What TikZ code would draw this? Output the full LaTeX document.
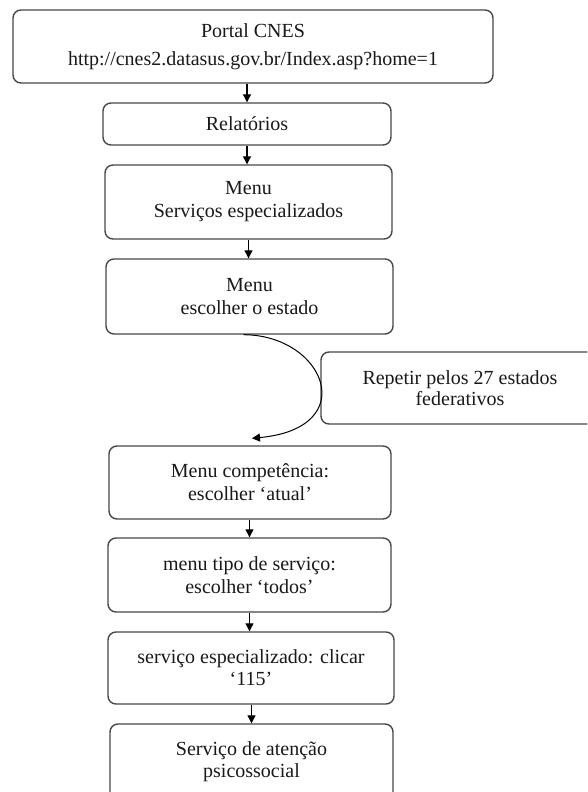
\documentclass[tikz,border=0pt]{standalone}
\usepackage{fontspec}
\setmainfont{Liberation Serif}
\usetikzlibrary{arrows.meta}
\begin{document}
\begin{tikzpicture}[x=1pt,y=-1pt,
  box/.style={draw=black!72,line width=1.4pt,rounded corners=8pt,align=center,
    inner sep=0pt,font={\fontsize{20}{23}\selectfont},text=black!90},
  arr/.style={draw=black,line width=1.1pt,-{Triangle[length=8pt,width=8pt]}}]
\clip (0,0) rectangle (587,792);
\fill[white] (0,0) rectangle (587,792);
\node[box,minimum width=480pt,minimum height=73pt,font={\fontsize{20}{28}\selectfont}] (b1) at (253,46.5)
  {Portal CNES\\http://cnes2.datasus.gov.br/Index.asp?home=1};
\node[box,minimum width=288pt,minimum height=42pt] (b2) at (247,124) {Relatórios};
\node[box,minimum width=287pt,minimum height=74pt] (b3) at (248.5,202) {Menu\\Serviços especializados};
\node[box,minimum width=287pt,minimum height=75pt] (b4) at (249.5,296.5) {Menu\\escolher o estado};
\node[box,minimum width=278pt,minimum height=72pt,font={\fontsize{20}{21}\selectfont}] (rep) at (460,388)
  {Repetir pelos 27 estados\\federativos};
\node[box,minimum width=282pt,minimum height=73pt] (b5) at (250,482.5) {Menu competência:\\escolher ‘atual’};
\node[box,minimum width=283pt,minimum height=74pt] (b6) at (249.5,575) {menu tipo de serviço:\\escolher ‘todos’};
\node[box,minimum width=286pt,minimum height=72pt,font={\fontsize{20}{22}\selectfont}] (b7) at (251,668) {serviço especializado: clicar\\‘115’};
\node[box,minimum width=283pt,minimum height=76pt,font={\fontsize{20}{22}\selectfont}] (b8) at (251.5,762) {Serviço de atenção\\psicossocial};
\draw[arr] (b1.south -| b2) -- (b2.north);
\draw[arr] (b2.south) -- (b3.north -| b2);
\draw[arr] (b3.south) -- (b4.north -| b3);
\draw[arr] (b5.south -| b6) -- (b6.north);
\draw[arr] (b6.south) -- (b7.north -| b6);
\draw[arr] (b7.south -| b8) -- (b8.north);
\coordinate (cs) at ([xshift=-6pt]b4.south);
\coordinate (ce) at ([xshift=2pt,yshift=7pt]b5.north);
\draw[arr,line width=1pt] (cs) .. controls (325,335) and (362,428) .. (ce);
\end{tikzpicture}
\end{document}
